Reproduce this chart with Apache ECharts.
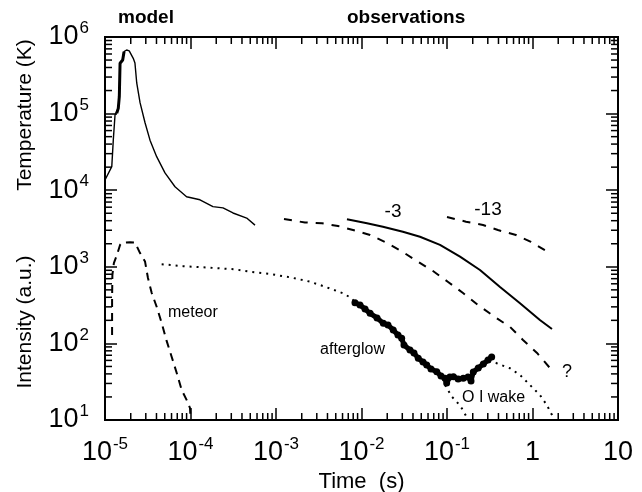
<!DOCTYPE html>
<html>
<head>
<meta charset="utf-8">
<script src="https://cdn.jsdelivr.net/npm/echarts@6/dist/echarts.min.js"></script>
<style>
html,body{margin:0;padding:0;background:#fff;}
#wrap{position:relative;width:642px;height:492px;}
#c,#t{position:absolute;left:0;top:0;width:642px;height:492px;}
#t{pointer-events:none;}
</style>
</head>
<body>
<div id="wrap"><div id="c"></div><div id="t"></div></div>
<script>
// ---- data (time in s, value in K or a.u.) ----
var tempModel = [[1.0e-5,1.36e4],[1.2e-5,2.03e4],[1.25e-5,4.5e4],[1.31e-5,9.6e4],[1.37e-5,1.01e5],[1.43e-5,1.17e5],[1.47e-5,1.66e5],[1.5e-5,4.54e5],[1.61e-5,5.01e5],[1.67e-5,6.43e5],[1.79e-5,6.76e5],[1.92e-5,6.6e5],[2.14e-5,5.27e5],[2.24e-5,4.58e5],[2.35e-5,2.51e5],[2.57e-5,1.39e5],[2.94e-5,7.6e4],[3.36e-5,4.5e4],[4.02e-5,2.74e4],[5.03e-5,1.68e4],[6.59e-5,1.11e4],[9.0e-5,8.2e3],[1.29e-4,7.5e3],[1.83e-4,6.1e3],[2.4e-4,5.87e3],[3.14e-4,5.04e3],[4.54e-4,4.33e3],[5.68e-4,3.5e3]];
var tempModelShock = [[1.37e-5,1.01e5],[1.43e-5,1.17e5],[1.47e-5,1.66e5],[1.5e-5,4.54e5],[1.61e-5,5.01e5],[1.67e-5,6.43e5]];
var tempObsQ = [[1.24e-3,4.21e3],[2.18e-3,3.79e3],[3.45e-3,3.70e3],[5.31e-3,3.41e3],[7.96e-3,3.02e3],[1.26e-2,2.6e3],[1.88e-2,2.11e3],[2.9e-2,1.61e3],[4.46e-2,1.19e3],[6.86e-2,881],[0.103,634],[0.154,455],[0.231,317],[0.364,221],[0.546,164],[0.774,111],[1.13,75],[1.6,47.7]];
var tempObsM3 = [[6.76e-3,4.17e3],[1.16e-2,3.7e3],[1.78e-2,3.34e3],[3.05e-2,2.87e3],[4.83e-2,2.47e3],[8.28e-2,1.93e3],[0.142,1.36e3],[0.243,908],[0.417,545],[0.714,334],[1.22,202],[1.69,154]];
var tempObsM13 = [[0.1,4.47e3],[0.167,3.88e3],[0.264,3.51e3],[0.394,3.02e3],[0.641,2.6e3],[0.959,2.11e3],[1.6,1.51e3]];
var meteor = [[1.21e-5,129],[1.21e-5,369],[1.22e-5,781],[1.27e-5,1.12e3],[1.38e-5,1.43e3],[1.5e-5,1.93e3],[1.58e-5,2.06e3],[1.96e-5,2.09e3],[2.24e-5,2.08e3],[2.57e-5,1.51e3],[2.94e-5,1.17e3],[3.18e-5,714],[3.52e-5,455],[4.02e-5,301],[4.6e-5,185],[5.27e-5,107],[6.03e-5,66.4],[6.9e-5,41.1],[7.89e-5,24.6],[9.03e-5,18.2],[9.87e-5,14.3],[1.0e-4,10.6]];
var modelIntensity = [[4.6e-5,1.08e3],[8.17e-5,1.02e3],[1.69e-4,973],[3.31e-4,927],[4.96e-4,863],[8.51e-4,805],[1.46e-3,729],[2.5e-3,639],[3.92e-3,540],[6.08e-3,451],[7.67e-3,388],[8.39e-3,340]];
var afterglow = [[8.39e-3,340],[9.6e-3,317],[1.1e-2,281],[1.26e-2,247],[1.52e-2,215],[1.8e-2,183],[2.04e-2,174],[2.35e-2,150],[2.67e-2,129],[2.95e-2,117],[3.14e-2,95.3],[3.69e-2,82],[4.11e-2,75],[4.61e-2,63.9],[5.24e-2,57.2],[5.79e-2,52.2],[6.5e-2,46.3],[7.59e-2,42.7],[8.51e-2,37.5],[9.48e-2,35.0],[9.91e-2,30.4],[0.108,36.4],[0.119,36.7],[0.135,34.3],[0.155,35.0],[0.176,36.4],[0.191,32.3],[0.203,42.4],[0.232,47.7],[0.266,53.8],[0.302,60.7],[0.333,66.4]];
var modelTail = [[0.333,66.4],[0.381,55],[0.546,47.3],[0.714,38.7],[0.935,28.6],[1.22,21.2],[1.47,15.7],[1.69,11.6],[1.77,10]];
var oiWake = [[9.48e-2,28.6],[0.114,20.1],[0.13,17.3],[0.149,14.2],[0.167,11.3]];
var xTickDecades = [-5,-4,-3,-2,-1,0,1];
var yTickDecades = [1,2,3,4,5,6];
var xMin = 1e-5, xMax = 10, yMin = 10, yMax = 1e6;

// ---- minor tick positions (2..9 x 10^k) ----
var minorX = [], minorY = [];
xTickDecades.slice(0,-1).forEach(function(e){ for (var m=2;m<=9;m++) minorX.push([m*Math.pow(10,e), yMin]); });
yTickDecades.slice(0,-1).forEach(function(e){ for (var m=2;m<=9;m++) minorY.push([xMin, m*Math.pow(10,e)]); });

var FF = '"Liberation Sans", Arial, sans-serif';
var BLK = '#000';
var GRID = {left: 105, top: 37, right: 24, bottom: 72, outerBoundsMode: 'none', containLabel: false};
function xFmt(v){ var e = Math.round(Math.log10(v)); if (e === 0) return '{b|1}'; if (e === 1) return '{b|10}'; return '{b|10}{s|' + e + '}'; }
function yFmt(v){ var e = Math.round(Math.log10(v)); return '{b|10}{s|' + e + '}'; }
function rich(){ return {
  b: {fontSize: 27, fontFamily: FF, color: BLK, lineHeight: 34},
  s: {fontSize: 17, fontFamily: FF, color: BLK, verticalAlign: 'top', lineHeight: 17, padding:[0,0,0,1]}
}; }
function axLine(){ return {show: true, lineStyle: {color: BLK, width: 2}}; }
function majTick(){ return {show: true, inside: true, length: 12, lineStyle: {color: BLK, width: 1.5}}; }
function lineSeries(data, width, dash, extra){
  var s = { type: 'line', data: data, showSymbol: false, symbol: 'none',
    lineStyle: {color: BLK, width: width, type: dash || 'solid'} };
  if (extra) for (var k in extra) s[k] = extra[k];
  return s;
}

// ---- main chart: curves, labels, texts ----
var chart = echarts.init(document.getElementById('c'));
chart.setOption({
  animation: false,
  backgroundColor: '#fff',
  grid: GRID,
  xAxis: [
    {type: 'log', min: xMin, max: xMax, position: 'bottom', axisLine: axLine(), axisTick: {show: false}, splitLine: {show: false},
     axisLabel: {show: true, margin: 16, formatter: xFmt, rich: rich()},
     name: 'Time  (s)', nameLocation: 'middle', nameGap: 45,
     nameTextStyle: {fontSize: 22, fontFamily: FF, color: BLK}},
    {type: 'log', min: xMin, max: xMax, position: 'top', axisLine: axLine(), axisTick: {show: false}, splitLine: {show: false}, axisLabel: {show: false}}
  ],
  yAxis: [
    {type: 'log', min: yMin, max: yMax, position: 'left', axisLine: axLine(), axisTick: {show: false}, splitLine: {show: false},
     axisLabel: {show: true, margin: 16, formatter: yFmt, rich: rich()}},
    {type: 'log', min: yMin, max: yMax, position: 'right', axisLine: axLine(), axisTick: {show: false}, splitLine: {show: false}, axisLabel: {show: false}}
  ],
  series: [
    lineSeries(tempModel, 1.4),
    lineSeries(tempModelShock, 3),
    lineSeries(tempObsQ, 2, [8, 8]),
    lineSeries(tempObsM3, 2),
    lineSeries(tempObsM13, 2, [8, 8]),
    lineSeries(meteor, 2, [8, 6]),
    lineSeries(modelIntensity, 2, [2, 5]),
    lineSeries(afterglow, 5, 'solid', {showSymbol: true, symbol: 'circle', symbolSize: 7, itemStyle: {color: BLK}}),
    lineSeries(modelTail, 2, [2, 5]),
    lineSeries(oiWake, 2, [2, 5])
  ],
  graphic: [
    {type: 'text', left: 118, top: 8, style: {text: 'model', font: 'bold 19px ' + FF, fill: BLK}},
    {type: 'text', left: 347, top: 8, style: {text: 'observations', font: 'bold 19px ' + FF, fill: BLK}},
    {type: 'text', x: 25, y: 115, rotation: Math.PI/2, style: {text: 'Temperature (K)', font: '21px ' + FF, fill: BLK, align: 'center', verticalAlign: 'middle'}},
    {type: 'text', x: 25, y: 322, rotation: Math.PI/2, style: {text: 'Intensity (a.u.)', font: '21px ' + FF, fill: BLK, align: 'center', verticalAlign: 'middle'}},
    {type: 'text', x: 168, y: 313, style: {text: 'meteor', font: '16px ' + FF, fill: BLK, align: 'left', verticalAlign: 'middle'}},
    {type: 'text', x: 385, y: 350, style: {text: 'afterglow', font: '16px ' + FF, fill: BLK, align: 'right', verticalAlign: 'middle'}},
    {type: 'text', x: 462, y: 398, style: {text: 'O I wake', font: '16px ' + FF, fill: BLK, align: 'left', verticalAlign: 'middle'}},
    {type: 'text', x: 567, y: 372, style: {text: '?', font: '18px ' + FF, fill: BLK, align: 'center', verticalAlign: 'middle'}},
    {type: 'text', x: 393, y: 212, style: {text: '-3', font: '19px ' + FF, fill: BLK, align: 'center', verticalAlign: 'middle'}},
    {type: 'text', x: 488, y: 210, style: {text: '-13', font: '19px ' + FF, fill: BLK, align: 'center', verticalAlign: 'middle'}}
  ]
});

// ---- overlay chart: the same axes, drawing the frame ticks (major + minor) ----
var tickChart = echarts.init(document.getElementById('t'));
tickChart.setOption({
  animation: false,
  backgroundColor: 'transparent',
  grid: GRID,
  xAxis: [
    {type: 'log', min: xMin, max: xMax, position: 'bottom', axisLine: axLine(), axisTick: majTick(), splitLine: {show: false}, axisLabel: {show: false}},
    {type: 'log', min: xMin, max: xMax, position: 'top', axisLine: axLine(), axisTick: majTick(), splitLine: {show: false}, axisLabel: {show: false}}
  ],
  yAxis: [
    {type: 'log', min: yMin, max: yMax, position: 'left', axisLine: axLine(), axisTick: majTick(), splitLine: {show: false}, axisLabel: {show: false}},
    {type: 'log', min: yMin, max: yMax, position: 'right', axisLine: axLine(), axisTick: majTick(), splitLine: {show: false}, axisLabel: {show: false}}
  ],
  series: [
    {type: 'custom', data: minorX, encode: {x: 0, y: 1}, renderItem: function(params, api){
       var b = api.coord([api.value(0), yMin]);
       var t = api.coord([api.value(0), yMax]);
       return {type: 'group', children: [
         {type: 'line', shape: {x1: b[0], y1: b[1], x2: b[0], y2: b[1]-7}, style: {stroke: BLK, lineWidth: 1.5}},
         {type: 'line', shape: {x1: t[0], y1: t[1], x2: t[0], y2: t[1]+7}, style: {stroke: BLK, lineWidth: 1.5}}
       ]};
     }},
    {type: 'custom', data: minorY, encode: {x: 0, y: 1}, renderItem: function(params, api){
       var l = api.coord([xMin, api.value(1)]);
       var r = api.coord([xMax, api.value(1)]);
       return {type: 'group', children: [
         {type: 'line', shape: {x1: l[0], y1: l[1], x2: l[0]+7, y2: l[1]}, style: {stroke: BLK, lineWidth: 1.5}},
         {type: 'line', shape: {x1: r[0], y1: r[1], x2: r[0]-7, y2: r[1]}, style: {stroke: BLK, lineWidth: 1.5}}
       ]};
     }}
  ]
});
</script>
</body>
</html>
